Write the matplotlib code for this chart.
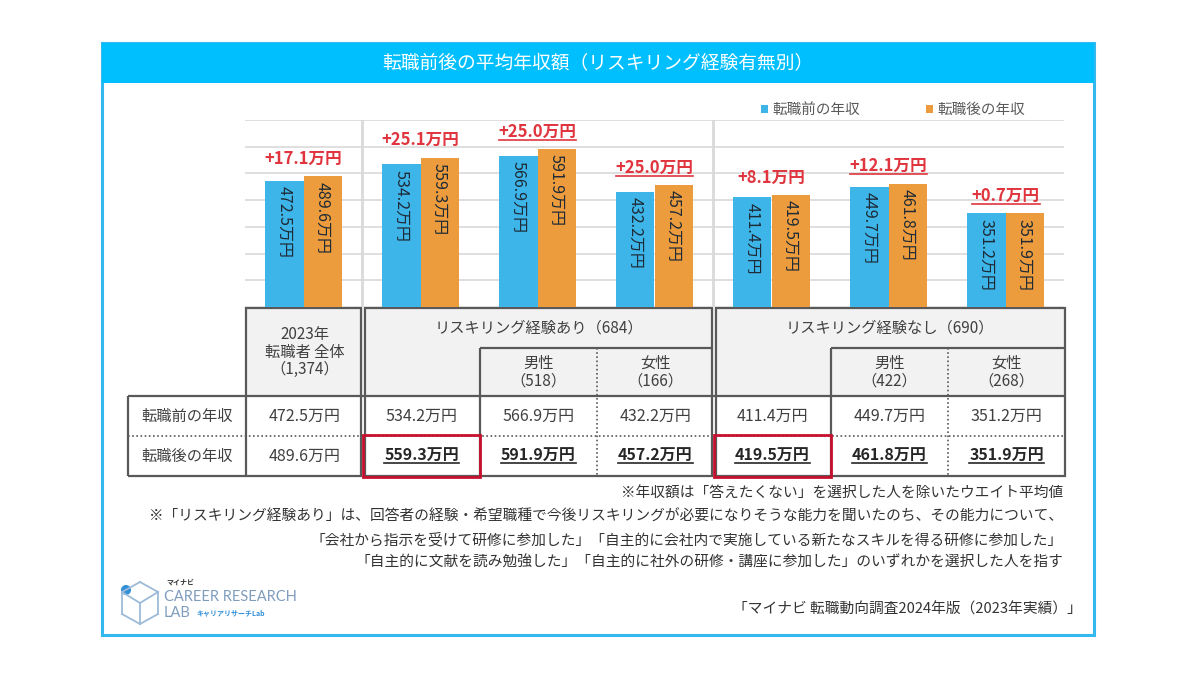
#!/usr/bin/env python3
"""
転職前後の平均年収額（リスキリング経験有無別） - chart + table recreation
"""

import matplotlib
matplotlib.use('Agg')
import matplotlib.pyplot as plt
from matplotlib.patches import Rectangle, Circle
from matplotlib.lines import Line2D

plt.rcParams['font.family'] = ['Noto Sans CJK JP', 'DejaVu Sans']

# ---- data ----
before = [472.5, 534.2, 566.9, 432.2, 411.4, 449.7, 351.2]
after = [489.6, 559.3, 591.9, 457.2, 419.5, 461.8, 351.9]
diff_underlined = [False, False, True, True, False, True, True]
after_bold = [False, True, True, True, True, True, True]
red_box_cols = [1, 4]

col_headers = ['2023年\n転職者 全体\n（1,374）', '', '男性\n（518）', '女性\n（166）',
               '', '男性\n（422）', '女性\n（268）']
group_headers = ['リスキリング経験あり（684）', 'リスキリング経験なし（690）']
row_labels = ['転職前の年収', '転職後の年収']
legend_labels = ['転職前の年収', '転職後の年収']

title = '転職前後の平均年収額（リスキリング経験有無別）'
notes = [
    '※年収額は「答えたくない」を選択した人を除いたウエイト平均値',
    '※「リスキリング経験あり」は、回答者の経験・希望職種で今後リスキリングが必要になりそうな能力を聞いたのち、その能力について、',
    '「会社から指示を受けて研修に参加した」「自主的に会社内で実施している新たなスキルを得る研修に参加した」',
    '「自主的に文献を読み勉強した」「自主的に社外の研修・講座に参加した」のいずれかを選択した人を指す',
]
source = '「マイナビ 転職動向調査2024年版（2023年実績）」'

BLUE = '#3DB5E8'
ORANGE = '#EC9C3D'
RED = '#E0353F'
TXT = '#404040'
LINE = '#595959'

W, H = 1200, 675
X0, GW = 245, 117          # pixel left edge of bar area, pixel width per group
n = len(before)

fig = plt.figure(figsize=(12, 6.75), dpi=100)

# background axes in pixel coordinates (y down)
bg = fig.add_axes([0, 0, 1, 1])
bg.set_xlim(0, W)
bg.set_ylim(H, 0)
bg.axis('off')

# frame + title band
bg.add_patch(Rectangle((102, 43), 992, 592, fill=False, ec='#33B8F0', lw=2.2))
bg.add_patch(Rectangle((102, 43), 992, 40, fc='#00BFFF', ec='none'))
bg.text(598, 63, title, color='white', fontsize=13.5, ha='center', va='center')

# ---- bar chart ----
ax = fig.add_axes([X0 / W, (H - 307) / H, GW * n / W, (307 - 120) / H])
ax.set_xlim(-0.5, n - 0.5)
ax.set_ylim(0, 700)
w = 0.325
xs = list(range(n))
ax.bar([x - w / 2 for x in xs], before, w, color=BLUE, zorder=3)
ax.bar([x + w / 2 for x in xs], after, w, color=ORANGE, zorder=3)
ax.set_yticks(range(0, 701, 100))
ax.yaxis.grid(True, color='#d9d9d9', lw=1.2, zorder=0)
ax.tick_params(left=False, bottom=False, labelleft=False, labelbottom=False)
for s in ax.spines.values():
    s.set_visible(False)
ax.axvline(0.5, color='#d9d9d9', lw=2, zorder=1)
ax.axvline(3.5, color='#d9d9d9', lw=2, zorder=1)
ax.patch.set_alpha(0)

for i in xs:
    for off, v in ((-w / 2, before[i]), (w / 2, after[i])):
        ax.annotate(f'{v:.1f}万円', (i + off, v), xytext=(0, -4), textcoords='offset points',
                    rotation=270, ha='center', va='top', fontsize=11.5, color='#1e2a36', zorder=4)

diff_texts = []
for i in xs:
    d = round(after[i] - before[i], 1)
    t = ax.annotate(f'+{d:.1f}万円', (i, after[i]), xytext=(0, 6), textcoords='offset points',
                    ha='center', va='bottom', fontsize=12, color=RED, fontweight='bold')
    diff_texts.append((t, diff_underlined[i]))

fig.legend(handles=[Rectangle((0, 0), 1, 1, fc=BLUE), Rectangle((0, 0), 1, 1, fc=ORANGE)],
           labels=legend_labels, loc='center', bbox_to_anchor=(893 / W, 1 - 110 / H), ncol=2,
           frameon=False, handlelength=0.5, handleheight=0.5, handletextpad=0.3,
           columnspacing=4.5, fontsize=10.5, labelcolor='#595959')

# ---- table ----
edges = [X0 + 1 + GW * k for k in range(n + 1)]
centers = [(edges[k] + edges[k + 1]) / 2 for k in range(n)]
y_top, y_sub, y_row, y_mid, y_bot = 308, 348, 396, 436, 476
lab_l = 128

bg.add_patch(Rectangle((edges[0], y_top), edges[-1] - edges[0], y_row - y_top, fc='#F2F2F2', ec='none'))


def hline(x0, x1, y, ls='-', lw=1.6):
    bg.plot([x0, x1], [y, y], color=LINE, lw=lw, ls=ls, solid_capstyle='butt')


def vline(x, y0, y1, ls='-', lw=1.6):
    bg.plot([x, x], [y0, y1], color=LINE, lw=lw, ls=ls, solid_capstyle='butt')


# blocks with a double line between them
blocks = [(edges[0], edges[1] - 2), (edges[1] + 2, edges[4] - 2), (edges[4] + 2, edges[-1])]
for bx0, bx1 in blocks:
    bg.add_patch(Rectangle((bx0, y_top), bx1 - bx0, y_bot - y_top, fill=False, ec=LINE, lw=1.6))
hline(lab_l, edges[0], y_row)
hline(lab_l, edges[0], y_bot)
vline(lab_l, y_row, y_bot)
hline(edges[0], edges[-1], y_row)
for a, b in ((2, 4), (5, 7)):
    hline(edges[a], edges[b] - (2 if b == 4 else 0), y_sub)
    vline(edges[a], y_sub, y_bot)
    vline(edges[a + 1], y_sub, y_bot, ls=(0, (1, 1.5)), lw=1.2)
hline(lab_l, edges[-1], y_mid, ls=(0, (1, 1.5)), lw=1.2)

for c in red_box_cols:
    bg.add_patch(Rectangle((edges[c], y_mid - 1), GW, y_bot - y_mid + 2, fill=False, ec='#C8102E', lw=2, zorder=5))

# header texts
bg.text(centers[0], 352, col_headers[0], ha='center', va='center', fontsize=11, color=TXT, linespacing=1.05)
bg.text((edges[1] + edges[4]) / 2, 328, group_headers[0], ha='center', va='center', fontsize=11, color=TXT)
bg.text((edges[4] + edges[7]) / 2, 328, group_headers[1], ha='center', va='center', fontsize=11, color=TXT)
for k in range(1, n):
    if col_headers[k]:
        bg.text(centers[k], 372, col_headers[k], ha='center', va='center', fontsize=11,
                color=TXT, linespacing=1.05)

bg.text((lab_l + edges[0]) / 2, 416, row_labels[0], ha='center', va='center', fontsize=11, color=TXT)
bg.text((lab_l + edges[0]) / 2, 456, row_labels[1], ha='center', va='center', fontsize=11, color=TXT)

table_under = []
for k in range(n):
    bg.text(centers[k], 416, f'{before[k]:.1f}万円', ha='center', va='center', fontsize=11.5, color=TXT)
    t = bg.text(centers[k], 456, f'{after[k]:.1f}万円', ha='center', va='center', fontsize=11.5,
                color='#262626' if after_bold[k] else TXT,
                fontweight='bold' if after_bold[k] else 'normal')
    if after_bold[k]:
        table_under.append(t)

# ---- footnotes ----
for j, line in enumerate(notes):
    bg.text(1063, 494 + 23 * j, line, ha='right', va='center', fontsize=10.6, color='#333333')
bg.text(1082, 609, source, ha='right', va='center', fontsize=10.6, color='#333333')

# ---- logo ----
lc = '#9dbbd8'
cube = [((122, 592), (140, 582)), ((140, 582), (158, 592)), ((158, 592), (158, 614)),
        ((158, 614), (140, 624)), ((140, 624), (122, 614)), ((122, 614), (122, 592)),
        ((122, 592), (140, 603)), ((140, 603), (158, 592)), ((140, 603), (140, 624))]
for (xa, ya), (xb, yb) in cube:
    bg.plot([xa, xb], [ya, yb], color=lc, lw=1.3)
bg.add_patch(Circle((126, 590), 5, fc='#2f8fd8', ec='none'))
bg.text(166, 582, 'マイナビ', fontsize=5, fontweight='bold', color='#333333', va='center')
bg.text(164, 597, 'CAREER RESEARCH', fontsize=10.5, color='#7f9cbd', va='center', family='Lato')
bg.text(164, 613, 'LAB', fontsize=10.5, color='#7f9cbd', va='center', family='Lato')
bg.text(196, 613, 'キャリアリサーチLab', fontsize=5, color='#2f8fd8', va='center', fontweight='bold')

# ---- underlines (needs text extents) ----
fig.canvas.draw()
r = fig.canvas.get_renderer()
targets = [t for t, u in diff_texts if u] + table_under
for t in targets:
    bb = t.get_window_extent(r)
    y = bb.y0 + 1
    col = t.get_color()
    fig.add_artist(Line2D([bb.x0 / W, bb.x1 / W], [y / H, y / H], transform=fig.transFigure,
                          color=col, lw=1.2))

fig.savefig('out.png', dpi=100)
